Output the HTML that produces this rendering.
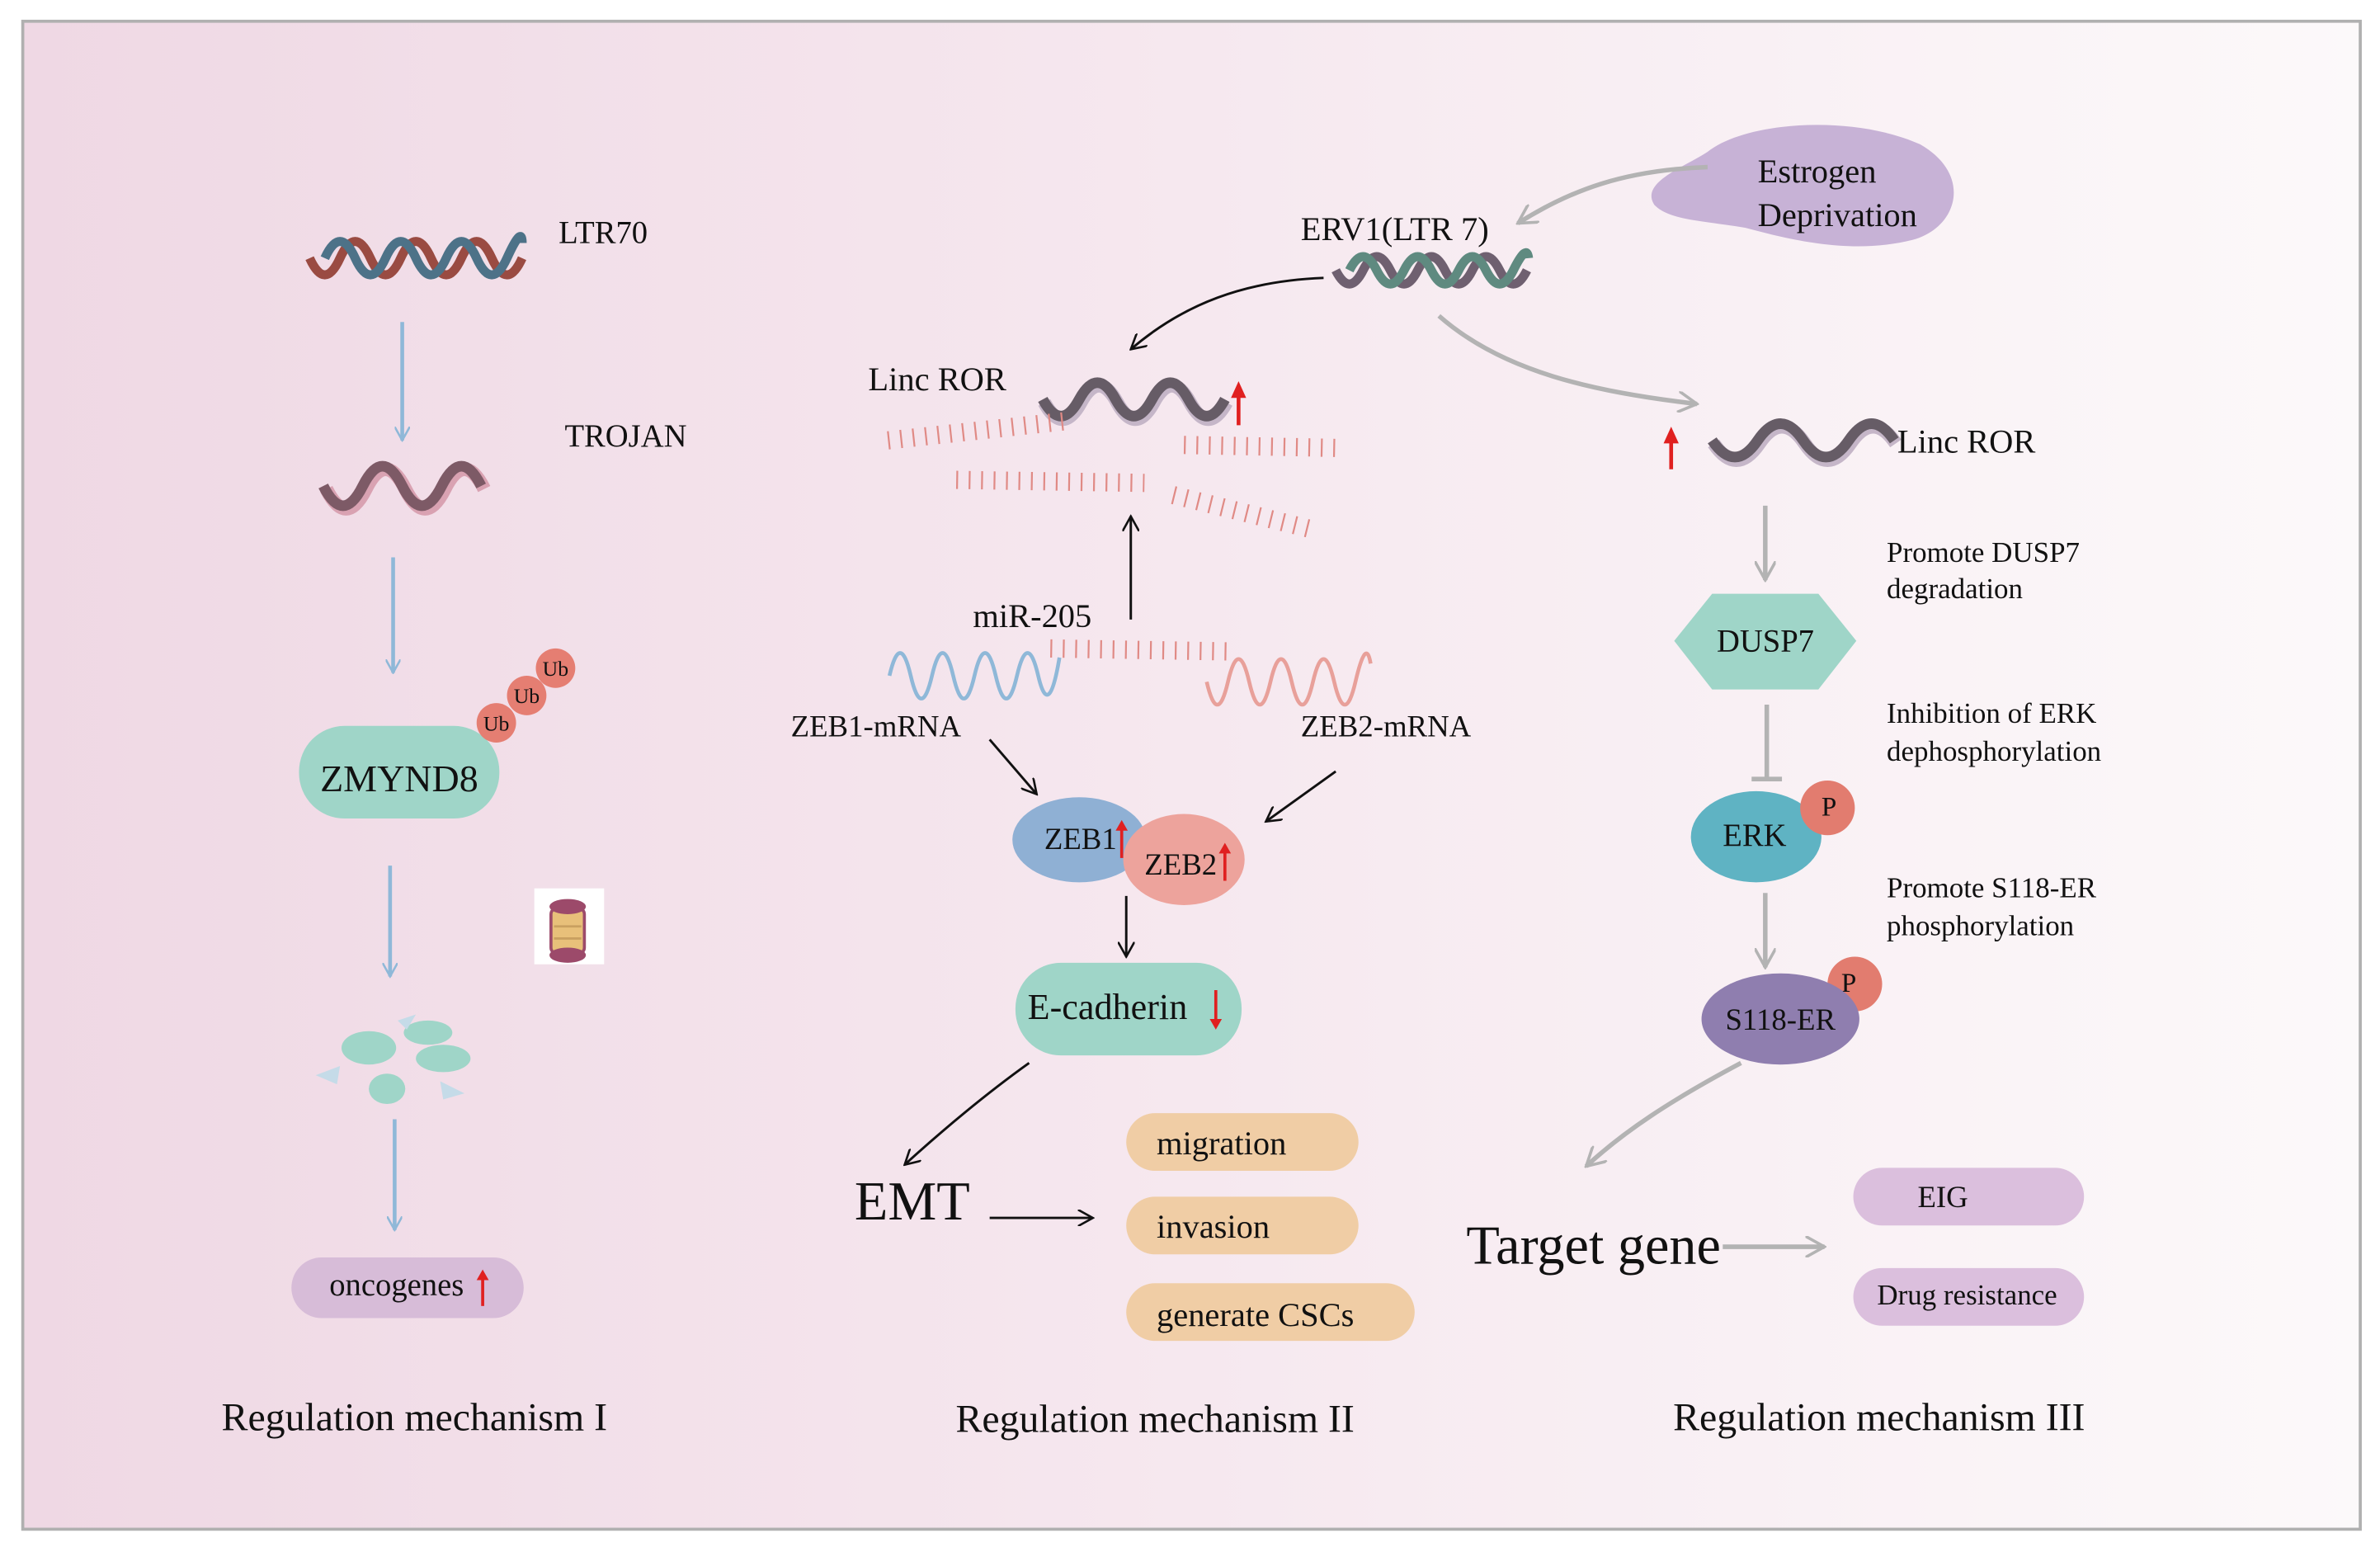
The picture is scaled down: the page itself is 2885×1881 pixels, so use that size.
<!DOCTYPE html>
<html><head><meta charset="utf-8"><style>
html,body{margin:0;padding:0;background:#fff}
svg{display:block}
text{font-family:"Liberation Serif","Times New Roman",serif;fill:#111}
</style></head><body>
<svg width="2885" height="1881" viewBox="0 0 1568 1022" preserveAspectRatio="none" xmlns="http://www.w3.org/2000/svg">
<defs>
<linearGradient id="bg" x1="0" x2="1" y1="0" y2="0">
<stop offset="0" stop-color="#efd8e4"/><stop offset="0.5" stop-color="#f6e8ef"/><stop offset="1" stop-color="#fcf9fa"/>
</linearGradient>
<marker id="ab" viewBox="0 0 10 10" refX="9" refY="5" markerWidth="10" markerHeight="10" markerUnits="userSpaceOnUse" orient="auto"><path d="M0,0 L9,5 L0,10" fill="none" stroke="#8fb8d8" stroke-width="1.4"/></marker>
<marker id="ak" viewBox="0 0 10 10" refX="9" refY="5" markerWidth="11" markerHeight="11" markerUnits="userSpaceOnUse" orient="auto"><path d="M0,0 L9,5 L0,10" fill="none" stroke="#111" stroke-width="1.3"/></marker>
<marker id="ag" viewBox="0 0 10 10" refX="9" refY="5" markerWidth="14" markerHeight="14" markerUnits="userSpaceOnUse" orient="auto"><path d="M0,0 L9,5 L0,10" fill="none" stroke="#b3b3b3" stroke-width="1.4"/></marker>
</defs>
<rect x="0" y="0" width="1568" height="1022" fill="#fff"/>
<rect x="15" y="14" width="1540" height="993" fill="url(#bg)" stroke="#b0b0b0" stroke-width="2"/>

<!-- Panel I -->
<path d="M204,170 q10,22 20,0 t20,0 t20,0 t20,0 t20,0 t20,0 t20,0" fill="none" stroke="#9a4b42" stroke-width="6"/>
<path d="M214,170 q10,-22 20,0 t20,0 t20,0 t20,0 t20,0 t20,0 t10,-10" fill="none" stroke="#4d7288" stroke-width="6"/>
<text x="368" y="160" font-size="21">LTR70</text>
<line x1="265" y1="212" x2="265" y2="290" stroke="#8fb8d8" stroke-width="2.5" marker-end="url(#ab)"/>
<text x="372" y="294" font-size="21">TROJAN</text>
<path d="M215,322 q13,26 26,0 t26,0 t26,0 t26,0" fill="none" stroke="#d9a2b2" stroke-width="9"/>
<path d="M213,320 q13,26 26,0 t26,0 t26,0 t26,0" fill="none" stroke="#7d5a66" stroke-width="7"/>
<line x1="259" y1="367" x2="259" y2="443" stroke="#8fb8d8" stroke-width="2.5" marker-end="url(#ab)"/>
<rect x="197" y="478" width="132" height="61" rx="30" fill="#9fd5c8"/>
<text x="263" y="521" font-size="25" text-anchor="middle">ZMYND8</text>
<circle cx="366" cy="440" r="13" fill="#e57e72"/><text x="366" y="445" font-size="14" text-anchor="middle">Ub</text>
<circle cx="347" cy="458" r="13" fill="#e57e72"/><text x="347" y="463" font-size="14" text-anchor="middle">Ub</text>
<circle cx="327" cy="476" r="13" fill="#e57e72"/><text x="327" y="481" font-size="14" text-anchor="middle">Ub</text>
<line x1="257" y1="570" x2="257" y2="643" stroke="#8fb8d8" stroke-width="2.5" marker-end="url(#ab)"/>
<rect x="352" y="585" width="46" height="50" fill="#fff"/>
<rect x="363" y="598" width="22" height="30" rx="4" fill="#e8c07a" stroke="#9c4a6a" stroke-width="2"/>
<ellipse cx="374" cy="597" rx="12" ry="5" fill="#9c4a6a"/><ellipse cx="374" cy="629" rx="12" ry="5" fill="#9c4a6a"/>
<path d="M365,610 h18 M365,618 h18" stroke="#c9a060" stroke-width="1.5"/>
<ellipse cx="243" cy="690" rx="18" ry="11" fill="#9fd5c8"/>
<ellipse cx="282" cy="680" rx="16" ry="8" fill="#9fd5c8"/>
<ellipse cx="292" cy="697" rx="18" ry="9" fill="#9fd5c8"/>
<ellipse cx="255" cy="717" rx="12" ry="10" fill="#9fd5c8"/>
<path d="M262,672 l12,-4 l-6,10z M208,708 l16,-6 l-2,12z M290,712 l16,8 l-14,4z" fill="#c5dbe8"/>
<line x1="260" y1="737" x2="260" y2="810" stroke="#8fb8d8" stroke-width="2.5" marker-end="url(#ab)"/>
<rect x="192" y="828" width="153" height="40" rx="20" fill="#d7bcd8"/>
<text x="217" y="853" font-size="21">oncogenes</text>
<line x1="318" y1="860" x2="318" y2="838" stroke="#e02020" stroke-width="2"/><path d="M314,843 L318,836 L322,843" fill="#e02020"/>
<text x="273" y="942" font-size="26" text-anchor="middle">Regulation mechanism I</text>

<!-- Panel II -->
<path d="M1090,135 C1080,120 1110,110 1125,100 C1150,80 1220,75 1265,95 C1300,115 1290,150 1260,158 C1220,168 1180,158 1150,150 C1120,145 1100,145 1090,135z" fill="#c7b2d6"/>
<text x="1158" y="120" font-size="22">Estrogen</text>
<text x="1158" y="149" font-size="22">Deprivation</text>
<path d="M1125,110 C1070,112 1035,125 1000,147" fill="none" stroke="#b3b3b3" stroke-width="3" marker-end="url(#ag)"/>
<text x="857" y="158" font-size="22">ERV1(LTR 7)</text>
<path d="M880,178 q9,18 18,0 t18,0 t18,0 t18,0 t18,0 t18,0 t18,0" fill="none" stroke="#6f6070" stroke-width="6"/>
<path d="M889,178 q9,-18 18,0 t18,0 t18,0 t18,0 t18,0 t18,0 t10,-8" fill="none" stroke="#5f8a80" stroke-width="6"/>
<path d="M872,183 C820,185 780,200 745,230" fill="none" stroke="#111" stroke-width="1.6" marker-end="url(#ak)"/>
<text x="572" y="257" font-size="22">Linc ROR</text>
<path d="M688,265 q12,22 24,0 t24,0 t24,0 t24,0 t24,0" fill="none" stroke="#c5b6c8" stroke-width="9"/>
<path d="M687,263 q12,22 24,0 t24,0 t24,0 t24,0 t24,0" fill="none" stroke="#665c66" stroke-width="7"/>
<line x1="816" y1="280" x2="816" y2="255" stroke="#e02020" stroke-width="2.5"/><path d="M811,262 L816,251 L821,262z" fill="#e02020"/>
<g stroke="#e08a85" stroke-width="12" stroke-dasharray="1.2 7" fill="none">
<line x1="585" y1="290" x2="705" y2="277"/>
<line x1="780" y1="293" x2="882" y2="295"/>
<line x1="630" y1="316" x2="754" y2="318"/>
<line x1="773" y1="326" x2="866" y2="349"/>
<line x1="692" y1="427" x2="812" y2="429"/>
</g>
<line x1="745" y1="408" x2="745" y2="340" stroke="#111" stroke-width="1.6" marker-end="url(#ak)"/>
<text x="641" y="413" font-size="22">miR-205</text>
<path d="M586,445 q7,-30 14,0 t14,0 t14,0 t14,0 t14,0 t14,0 t14,0 t14,-12" fill="none" stroke="#8fb8d8" stroke-width="2.5"/>
<path d="M795,449 q7,30 14,0 t14,0 t14,0 t14,0 t14,0 t14,0 t14,0 t10,-12" fill="none" stroke="#e8a09a" stroke-width="2.5"/>
<text x="521" y="485" font-size="20">ZEB1-mRNA</text>
<text x="857" y="485" font-size="20">ZEB2-mRNA</text>
<line x1="652" y1="487" x2="683" y2="523" stroke="#111" stroke-width="1.6" marker-end="url(#ak)"/>
<line x1="880" y1="508" x2="834" y2="541" stroke="#111" stroke-width="1.6" marker-end="url(#ak)"/>
<ellipse cx="711" cy="553" rx="44" ry="28" fill="#8fb0d4"/>
<ellipse cx="780" cy="566" rx="40" ry="30" fill="#eda39c"/>
<text x="688" y="559" font-size="20">ZEB1</text>
<line x1="739" y1="565" x2="739" y2="542" stroke="#e02020" stroke-width="2"/><path d="M735,547 L739,540 L743,547" fill="#e02020"/>
<text x="754" y="576" font-size="20">ZEB2</text>
<line x1="807" y1="580" x2="807" y2="557" stroke="#e02020" stroke-width="2"/><path d="M803,562 L807,555 L811,562" fill="#e02020"/>
<line x1="742" y1="590" x2="742" y2="630" stroke="#111" stroke-width="1.6" marker-end="url(#ak)"/>
<rect x="669" y="634" width="149" height="61" rx="30" fill="#9fd5c8"/>
<text x="677" y="671" font-size="24">E-cadherin</text>
<line x1="801" y1="652" x2="801" y2="676" stroke="#e02020" stroke-width="2"/><path d="M797,671 L801,678 L805,671" fill="#e02020"/>
<path d="M678,700 C650,720 620,745 596,767" fill="none" stroke="#111" stroke-width="1.6" marker-end="url(#ak)"/>
<text x="563" y="803" font-size="36">EMT</text>
<line x1="652" y1="802" x2="720" y2="802" stroke="#111" stroke-width="1.6" marker-end="url(#ak)"/>
<rect x="742" y="733" width="153" height="38" rx="19" fill="#f0cda5"/><text x="762" y="760" font-size="22">migration</text>
<rect x="742" y="788" width="153" height="38" rx="19" fill="#f0cda5"/><text x="762" y="815" font-size="22">invasion</text>
<rect x="742" y="845" width="190" height="38" rx="19" fill="#f0cda5"/><text x="762" y="873" font-size="22">generate CSCs</text>
<text x="761" y="943" font-size="26" text-anchor="middle">Regulation mechanism II</text>

<!-- Panel III -->
<path d="M948,208 C990,245 1050,258 1118,266" fill="none" stroke="#b3b3b3" stroke-width="3" marker-end="url(#ag)"/>
<line x1="1101" y1="309" x2="1101" y2="286" stroke="#e02020" stroke-width="2.5"/><path d="M1096,292 L1101,281 L1106,292z" fill="#e02020"/>
<path d="M1129,292 q15,22 30,0 t30,0 t30,0 t30,0" fill="none" stroke="#c5b6c8" stroke-width="9"/>
<path d="M1128,290 q15,22 30,0 t30,0 t30,0 t30,0" fill="none" stroke="#665c66" stroke-width="7"/>
<text x="1250" y="298" font-size="22">Linc ROR</text>
<line x1="1163" y1="333" x2="1163" y2="382" stroke="#b3b3b3" stroke-width="3" marker-end="url(#ag)"/>
<polygon points="1103,422 1128,391 1198,391 1223,422 1198,454 1128,454" fill="#9fd5c8"/>
<text x="1131" y="429" font-size="21">DUSP7</text>
<text x="1243" y="370" font-size="19">Promote DUSP7</text>
<text x="1243" y="394" font-size="19">degradation</text>
<line x1="1164" y1="464" x2="1164" y2="513" stroke="#b3b3b3" stroke-width="3"/>
<line x1="1154" y1="513" x2="1174" y2="513" stroke="#b3b3b3" stroke-width="3"/>
<text x="1243" y="476" font-size="19">Inhibition of ERK</text>
<text x="1243" y="501" font-size="19">dephosphorylation</text>
<ellipse cx="1157" cy="551" rx="43" ry="30" fill="#5fb3c3"/>
<circle cx="1204" cy="532" r="18" fill="#e27c6f"/><text x="1200" y="537" font-size="18">P</text>
<text x="1135" y="557" font-size="21">ERK</text>
<text x="1243" y="591" font-size="19">Promote S118-ER</text>
<text x="1243" y="616" font-size="19">phosphorylation</text>
<line x1="1163" y1="588" x2="1163" y2="637" stroke="#b3b3b3" stroke-width="3" marker-end="url(#ag)"/>
<circle cx="1222" cy="648" r="18" fill="#e27c6f"/><text x="1213" y="653" font-size="18">P</text>
<ellipse cx="1173" cy="671" rx="52" ry="30" fill="#8f7eaf"/>
<text x="1173" y="678" font-size="20" text-anchor="middle">S118-ER</text>
<path d="M1147,700 C1100,725 1070,745 1045,768" fill="none" stroke="#b3b3b3" stroke-width="3" marker-end="url(#ag)"/>
<text x="966" y="832" font-size="36">Target gene</text>
<line x1="1135" y1="821" x2="1202" y2="821" stroke="#b3b3b3" stroke-width="3" marker-end="url(#ag)"/>
<rect x="1221" y="769" width="152" height="38" rx="19" fill="#dbbfdd"/><text x="1280" y="795" font-size="20" text-anchor="middle">EIG</text>
<rect x="1221" y="835" width="152" height="38" rx="19" fill="#dbbfdd"/><text x="1296" y="859" font-size="19" text-anchor="middle">Drug resistance</text>
<text x="1238" y="942" font-size="26" text-anchor="middle">Regulation mechanism III</text>
</svg>
</body></html>
